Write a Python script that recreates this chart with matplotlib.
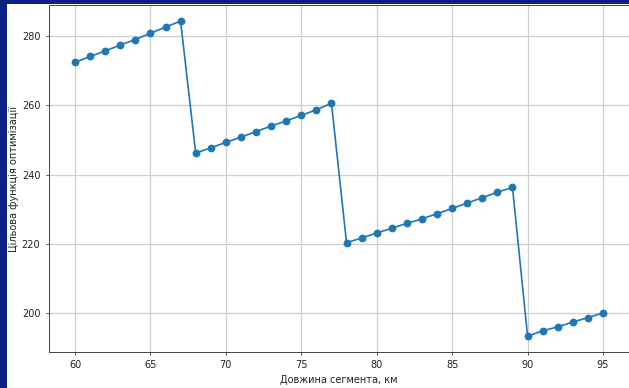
import matplotlib
matplotlib.use("Agg")
import matplotlib.pyplot as plt
from matplotlib.patches import Rectangle

lengths = list(range(60, 96))
objective = [
    272.4, 274.1, 275.7, 277.4, 279.0, 280.8, 282.6, 284.3,
    246.2, 247.7, 249.3, 250.8, 252.4, 254.0, 255.5, 257.1, 258.7, 260.6,
    220.3, 221.7, 223.1, 224.5, 225.9, 227.2, 228.7, 230.2, 231.8, 233.3, 234.9, 236.3,
    193.3, 194.9, 196.0, 197.4, 198.7, 200.0,
]
xlabel = "Довжина сегмента, км"
ylabel = "Цільова функція оптимізації"

W, H = 629, 388
fig = plt.figure(figsize=(W / 100, H / 100), dpi=100, facecolor="#0b2184")
bg = Rectangle((7 / W, 0), 1, (H - 4) / H, transform=fig.transFigure,
               facecolor="white", edgecolor="none", zorder=-10)
fig.patches.append(bg)

left, right = 48.6, 629.4
top, bottom = 5.4, 352
ax = fig.add_axes([left / W, (H - bottom) / H, (right - left) / W, (bottom - top) / H])
ax.set_zorder(5)
ax.plot(lengths, objective, marker="o", color="#1f77b4", markersize=4.6, linewidth=1.2)
ax.set_xlim(58.25, 96.75)
ax.set_ylim(188.75, 288.85)
ax.set_xticks([60, 65, 70, 75, 80, 85, 90, 95])
ax.set_yticks([200, 220, 240, 260, 280])
ax.grid(True, color="#cfcfcf", linewidth=0.9)
ax.tick_params(labelsize=7, length=2.5, width=0.6, colors="#333333", labelcolor="#222222")
for s in ax.spines.values():
    s.set_linewidth(0.7)
    s.set_color("#444444")
ax.set_xlabel(xlabel, fontsize=7, color="#222222", labelpad=3)
ax.set_ylabel(ylabel, fontsize=7, color="#222222", labelpad=2)

fig.savefig("out.png", dpi=100, facecolor=fig.get_facecolor())
